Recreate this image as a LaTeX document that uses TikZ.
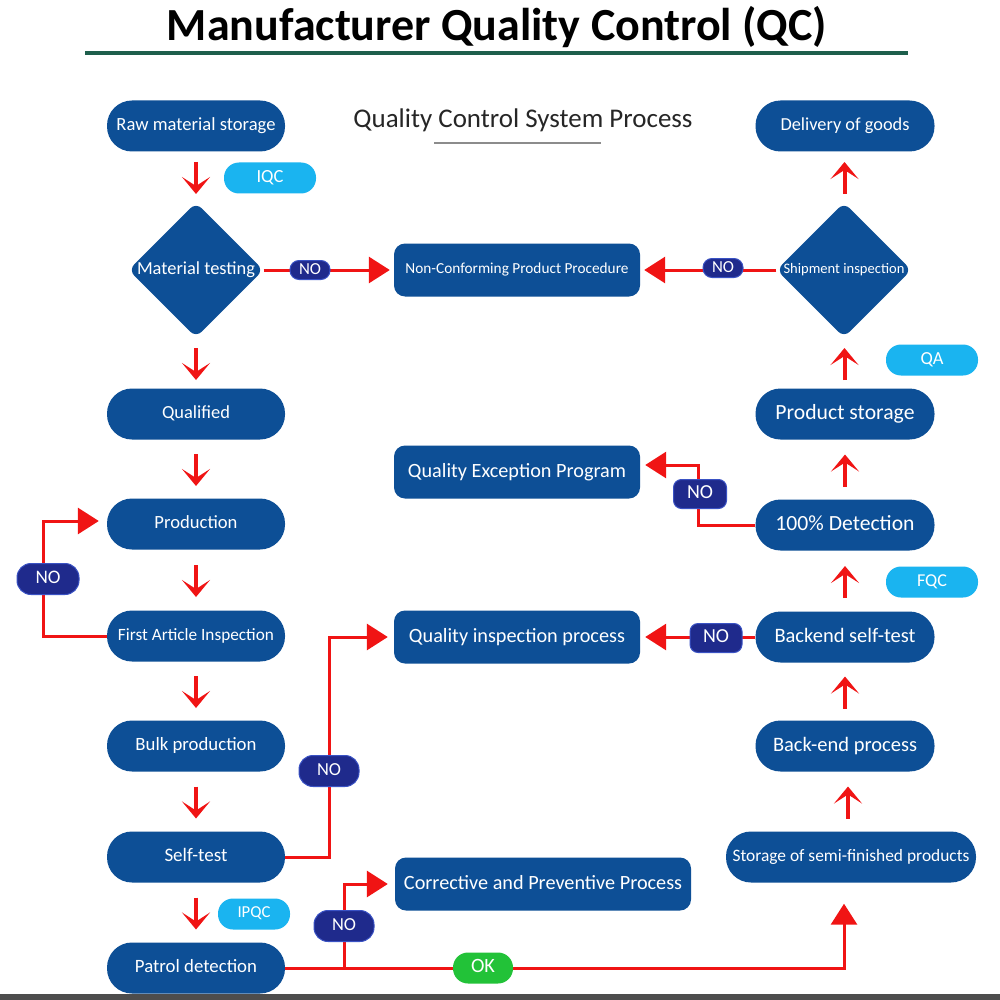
\documentclass[tikz,border=0pt]{standalone}
\usepackage{fontspec}
\setmainfont{Carlito}
\usetikzlibrary{arrows.meta,shapes.geometric,calc}
\definecolor{qblue}{HTML}{0D4F96}
\definecolor{lblue}{HTML}{1AB4F0}
\definecolor{navy}{HTML}{1F2A8C}
\definecolor{navyedge}{HTML}{3A52C4}
\definecolor{okg}{HTML}{22C238}
\definecolor{qred}{HTML}{F01414}
\definecolor{tgreen}{HTML}{1E5F4C}
\definecolor{band}{HTML}{4D4D4D}
\newcommand{\fitw}[2]{\resizebox{#1pt}{!}{\vphantom{Ag}#2}}
\begin{document}
\begin{tikzpicture}[x=1pt,y=-1pt,
  pillbox/.style={fill=qblue,text=white,rounded corners=25pt,minimum width=178pt,minimum height=51pt,inner sep=0pt},
  midbox/.style={fill=qblue,text=white,rounded corners=11pt,minimum width=246pt,minimum height=53pt,inner sep=0pt},
  diam/.style={diamond,fill=qblue,rounded corners=8pt,minimum width=135pt,minimum height=135pt,inner sep=0pt},
  dtext/.style={text=white,inner sep=0pt},
  lpill/.style={fill=lblue,text=white,rounded corners=15pt,minimum width=92pt,minimum height=31pt,inner sep=0pt},
  nopill/.style={fill=navy,draw=navyedge,line width=1pt,text=white,inner sep=0pt},
  okpill/.style={fill=okg,text=white,rounded corners=15pt,minimum width=60pt,minimum height=31pt,inner sep=0pt},
  rline/.style={draw=qred,line width=3pt},
  conn/.style={draw=qred,line width=3pt,-{Triangle[length=21pt,width=26pt]}},
  chev/.style={draw=qred,line width=4pt,-{Stealth[length=17pt,width=28pt,inset=9pt]}}
]
\fill[white] (0,0) rectangle (1000,1000);
\useasboundingbox (0,0) rectangle (1000,1000);

% title
\node[inner sep=0pt] (title) at (497,27) {\fitw{660}{\bfseries Manufacturer Quality Control (QC)}};
\coordinate (gl1) at (85,53);
\coordinate (gl2) at (908,53);
\draw[tgreen,line width=4pt] (gl1) -- (gl2);
\node[inner sep=0pt,text=black!85] (sub) at (523,120) {\fitw{339}{Quality Control System Process}};
\coordinate (ul1) at (434,143);
\coordinate (ul2) at (601,143);
\draw[black!45,line width=1.5pt] (ul1) -- (ul2);

% left column
\node[pillbox] (rms) at (196,126) {\fitw{159}{Raw material storage}};
\node[diam,label={[dtext]center:\fitw{118}{Material testing}}] (mt) at (196,270) {};
\node[pillbox] (qual) at (196,414) {\fitw{68}{Qualified}};
\node[pillbox] (prod) at (196,524) {\fitw{83}{Production}};
\node[pillbox] (fai) at (196,636) {\fitw{156}{First Article Inspection}};
\node[pillbox] (bulk) at (196,746) {\fitw{121}{Bulk production}};
\node[pillbox] (self) at (196,857) {\fitw{63}{Self-test}};
\node[pillbox] (patrol) at (196,968) {\fitw{122}{Patrol detection}};

% middle boxes
\node[midbox] (ncp) at (517,270) {\fitw{223}{Non-Conforming Product Procedure}};
\node[midbox] (qep) at (517,472) {\fitw{218}{Quality Exception Program}};
\node[midbox] (qip) at (517,637) {\fitw{216}{Quality inspection process}};
\node[midbox,minimum width=296pt] (cpp) at (543,884) {\fitw{278}{Corrective and Preventive Process}};

% right column
\node[pillbox,minimum width=179pt] (deliv) at (845,126) {\fitw{129}{Delivery of goods}};
\node[diam,label={[dtext]center:\fitw{121}{Shipment inspection}}] (si) at (844,270) {};
\node[pillbox,minimum width=179pt] (pstore) at (845,414) {\fitw{139}{Product storage}};
\node[pillbox,minimum width=179pt] (det) at (845,525) {\fitw{139}{100\% Detection}};
\node[pillbox,minimum width=179pt] (back) at (845,637) {\fitw{141}{Backend self-test}};
\node[pillbox,minimum width=179pt] (bep) at (845,746) {\fitw{144}{Back-end process}};
\node[pillbox,minimum width=250pt] (sfp) at (851,857) {\fitw{237}{Storage of semi-finished products}};

% short chevron arrows, left column (down)
\foreach \a/\b in {rms/mt,mt/qual,qual/prod,prod/fai,fai/bulk,bulk/self,self/patrol}{
  \draw[chev] ($(\a.south)!0.5!(\b.north)+(0,-15)$) -- +(0,32);
}
% right column (up)
\foreach \a/\b in {deliv/si,si/pstore,pstore/det,det/back,back/bep,bep/sfp}{
  \draw[chev] ($(\a.south)!0.5!(\b.north)+(0,17)$) -- +(0,-32);
}

% connectors
\draw[conn,shorten >=4pt] (mt.east) -- (mt.east -| ncp.west);
\draw[conn,shorten >=4pt] (si.west) -- (si.west -| ncp.east);
\coordinate (fl) at (43,636);
\draw[conn] (fai.west) -- (fl) |- ([xshift=-8pt,yshift=3pt]prod.west);
\coordinate (sv) at (329,857);
\draw[conn] (self.east) -- (sv) |- ([xshift=-6pt]qip.west);
\coordinate (br) at (344,968);
\draw[rline] (patrol.east) -- (br);
\draw[conn] (br) -| ([xshift=-7pt,yshift=-21pt]sfp.south);
\draw[conn] (br) |- ([xshift=-7pt]cpp.west);
\coordinate (dl) at (698,525);
\draw[conn] (det.west) -- (dl) |- ([xshift=5pt,yshift=7pt]qep.east);
\draw[conn,shorten >=5pt] (back.west) -- (back.west -| qip.east);

% label pills
\node[lpill] (iqc) at (270,178) {\fitw{27}{IQC}};
\node[lpill] (qa) at (932,360) {\fitw{23}{QA}};
\node[lpill] (fqc) at (932,582) {\fitw{30}{FQC}};
\node[lpill,minimum width=72pt] (ipqc) at (254,914) {\fitw{33}{IPQC}};
\node[nopill,rounded corners=9pt,minimum width=40pt,minimum height=19pt] (no1) at (310,270) {\fitw{22}{NO}};
\node[nopill,rounded corners=9pt,minimum width=40pt,minimum height=19pt] (no2) at (723,268) {\fitw{22}{NO}};
\node[nopill,rounded corners=14pt,minimum width=62pt,minimum height=31pt] (no3) at (48,579) {\fitw{25}{NO}};
\node[nopill,rounded corners=8pt,minimum width=53pt,minimum height=29pt] (no4) at (700,494) {\fitw{26}{NO}};
\node[nopill,rounded corners=8pt,minimum width=52pt,minimum height=29pt] (no5) at (716,638) {\fitw{26}{NO}};
\node[nopill,rounded corners=14pt,minimum width=60pt,minimum height=31pt] (no6) at (329,771) {\fitw{24}{NO}};
\node[nopill,rounded corners=14pt,minimum width=60pt,minimum height=31pt] (no7) at (344,926) {\fitw{24}{NO}};
\node[okpill] (ok) at (483,968) {\fitw{24}{OK}};

% bottom band
\fill[band] (0,994) rectangle (1000,1000);
\end{tikzpicture}
\end{document}
